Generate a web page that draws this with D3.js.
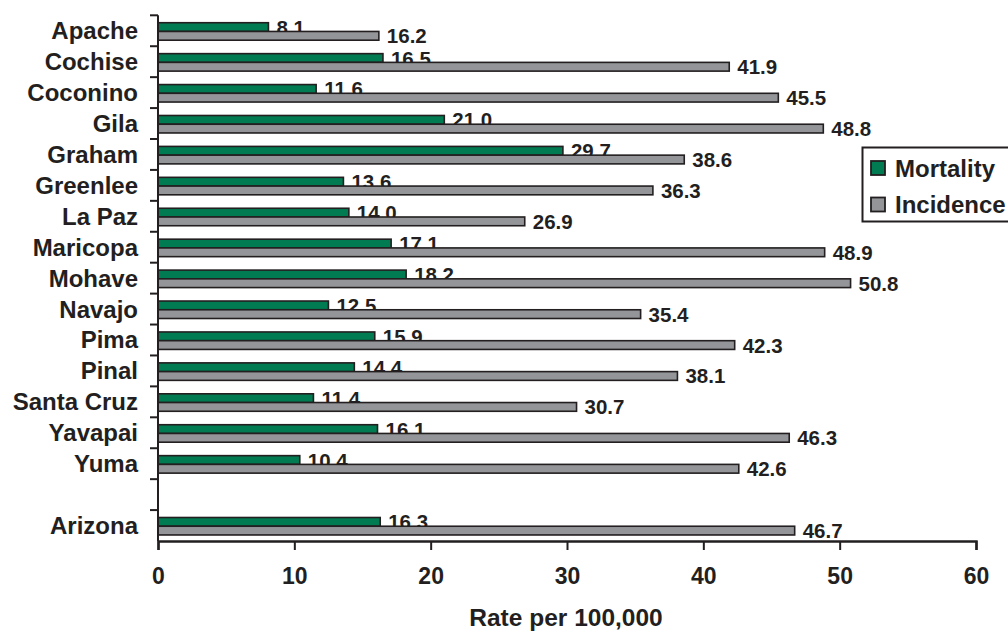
<!DOCTYPE html>
<html>
<head>
<meta charset="utf-8">
<script src="https://cdn.jsdelivr.net/npm/d3@7/dist/d3.min.js"></script>
<style>
  html, body { margin: 0; padding: 0; background: #fff; }
  svg { display: block; font-family: "Liberation Sans", Arial, Helvetica, sans-serif; font-weight: bold; }
</style>
</head>
<body>
<svg id="chart" width="1008" height="633"></svg>
<script>
// ---- data ----
const categories = ["Apache", "Cochise", "Coconino", "Gila", "Graham", "Greenlee", "La Paz",
  "Maricopa", "Mohave", "Navajo", "Pima", "Pinal", "Santa Cruz", "Yavapai", "Yuma", "", "Arizona"];
const mortality = [8.1, 16.5, 11.6, 21.0, 29.7, 13.6, 14.0, 17.1, 18.2, 12.5, 15.9, 14.4, 11.4, 16.1, 10.4, null, 16.3];
const incidence = [16.2, 41.9, 45.5, 48.8, 38.6, 36.3, 26.9, 48.9, 50.8, 35.4, 42.3, 38.1, 30.7, 46.3, 42.6, null, 46.7];
const seriesNames = ["Mortality", "Incidence"];
const seriesColors = ["#007b52", "#939598"];
const xTicks = [0, 10, 20, 30, 40, 50, 60];
const xTitle = "Rate per 100,000";

// ---- layout ----
const svg = d3.select("#chart");
const ink = "#231f20";
const mLeft = 158, mRight = 976, mTop = 15.3, mBottom = 541;

const x = d3.scaleLinear().domain([0, 60]).range([mLeft, mRight]);
const keys = categories.map((c, i) => c === "" ? "__blank" + i : c);
const y = d3.scaleBand().domain(keys).range([mTop, mBottom]).padding(0);
const ySub = d3.scaleBand().domain(seriesNames).range([y.bandwidth() * 0.24, y.bandwidth() * 0.805]).padding(0);

const seriesValues = [mortality, incidence];

// bars
const g = svg.append("g");
keys.forEach((k, i) => {
  seriesNames.forEach((s, j) => {
    const v = seriesValues[j][i];
    if (v == null) return;
    const y0 = y(k) + ySub(s);
    g.append("rect")
      .attr("x", x(0))
      .attr("y", y0)
      .attr("width", x(v) - x(0))
      .attr("height", ySub.bandwidth())
      .attr("fill", seriesColors[j])
      .attr("stroke", ink)
      .attr("stroke-width", 1.6);
    g.append("text")
      .attr("x", x(v) + 8)
      .attr("y", y0 + ySub.bandwidth() / 2 + 7.5)
      .attr("font-size", 20.5)
      .attr("fill", ink)
      .text(v.toFixed(1));
  });
});

// y axis
const yAxisG = svg.append("g").attr("transform", `translate(${mLeft},0)`);
yAxisG.append("line").attr("x1", 0).attr("x2", 0).attr("y1", mTop).attr("y2", mBottom)
  .attr("stroke", ink).attr("stroke-width", 2);
keys.forEach((k) => {
  yAxisG.append("line").attr("x1", -8).attr("x2", 0)
    .attr("y1", y(k)).attr("y2", y(k)).attr("stroke", ink).attr("stroke-width", 2);
});
keys.forEach((k, i) => {
  if (categories[i] === "") return;
  yAxisG.append("text")
    .attr("x", -20)
    .attr("y", y(k) + y.bandwidth() / 2 + 8.5)
    .attr("text-anchor", "end")
    .attr("font-size", 24)
    .attr("fill", ink)
    .text(categories[i]);
});

// x axis
const xAxis = d3.axisBottom(x).tickValues(xTicks).tickSize(9).tickPadding(18).tickFormat(d3.format("d"));
const xAxisG = svg.append("g").attr("transform", `translate(0,${mBottom})`).call(xAxis);
xAxisG.select(".domain").attr("stroke", ink).attr("stroke-width", 2.4);
xAxisG.selectAll(".tick line").attr("stroke", ink).attr("stroke-width", 2);
xAxisG.selectAll(".tick text").attr("font-size", 23).attr("font-weight", "bold")
  .attr("font-family", "Liberation Sans, Arial, sans-serif").attr("fill", ink);

svg.append("text")
  .attr("x", 566)
  .attr("y", 626)
  .attr("text-anchor", "middle")
  .attr("font-size", 24.5)
  .attr("fill", ink)
  .text(xTitle);

// legend
const lg = svg.append("g");
lg.append("rect").attr("x", 862.5).attr("y", 147.5).attr("width", 160).attr("height", 74)
  .attr("fill", "#fff").attr("stroke", ink).attr("stroke-width", 2);
seriesNames.forEach((s, j) => {
  const cy = 168 + j * 36.5;
  lg.append("rect").attr("x", 871).attr("y", cy - 7).attr("width", 14).attr("height", 14)
    .attr("fill", seriesColors[j]).attr("stroke", ink).attr("stroke-width", 1.8);
  lg.append("text").attr("x", 895).attr("y", cy + 8.5).attr("font-size", 24)
    .attr("fill", ink).text(s);
});
</script>
</body>
</html>
